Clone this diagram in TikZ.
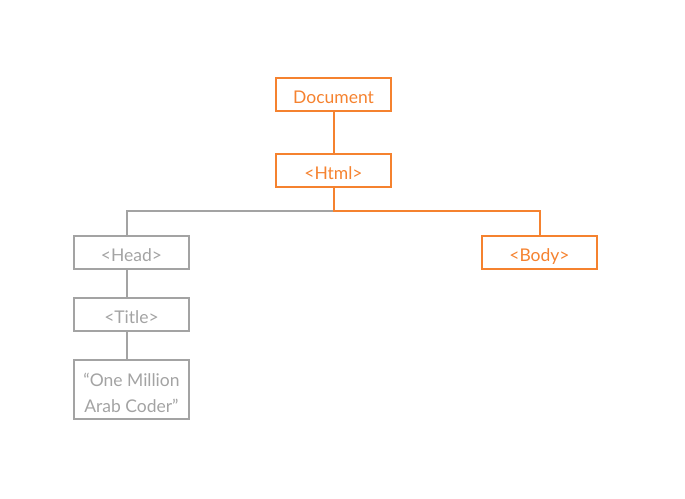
\documentclass[tikz,border=0pt]{standalone}
\usepackage{fontspec}
\setmainfont{Lato}
\usepackage{tikz}
\usetikzlibrary{positioning}
\definecolor{domorange}{HTML}{F5822F}
\definecolor{domgray}  {HTML}{A3A3A3}

\begin{document}
\begin{tikzpicture}[x=1pt, y=-1pt,
    tagbox/.style={draw, line width=2pt, minimum width=115pt, minimum height=33pt,
                   inner sep=0pt, text height=17pt, text depth=0pt,
                   font=\fontsize{17.5}{26}\selectfont},
    hotbox/.style={tagbox, draw=domorange, text=domorange},
    coldbox/.style={tagbox, draw=domgray, text=domgray},
    hotline/.style={draw=domorange, line width=2pt},
    coldline/.style={draw=domgray, line width=2pt}]
  \useasboundingbox (0,0) rectangle (685,498);

  \node[hotbox]  (doc)   at (333.5,94.5)  {Document};
  \node[hotbox]  (html)  at (333.5,170.5) {<Html>};
  \node[coldbox] (head)  at (131.5,252.5) {<Head>};
  \node[hotbox]  (body)  at (539.5,252.5) {<Body>};
  \node[coldbox] (title) at (131.5,314.5) {<Title>};
  \node[coldbox, minimum height=59pt, align=center, text height=45pt]
       (text) at (131.5,389.5) {“One Million\\Arab Coder”};

  \coordinate (fork) at (333.5,210.5);
  % grey branch first, orange drawn over it
  \draw[coldline] (fork) -| ([xshift=-4.5pt]head.north);
  \draw[coldline] ([xshift=-4.5pt]head.south) -- ([xshift=-4.5pt]title.north);
  \draw[coldline] ([xshift=-4.5pt]title.south) -- ([xshift=-4.5pt]text.north);
  \draw[hotline] (doc) -- (html);
  \draw[hotline] (html.south) -- (fork) -| (body.north);
\end{tikzpicture}
\end{document}
